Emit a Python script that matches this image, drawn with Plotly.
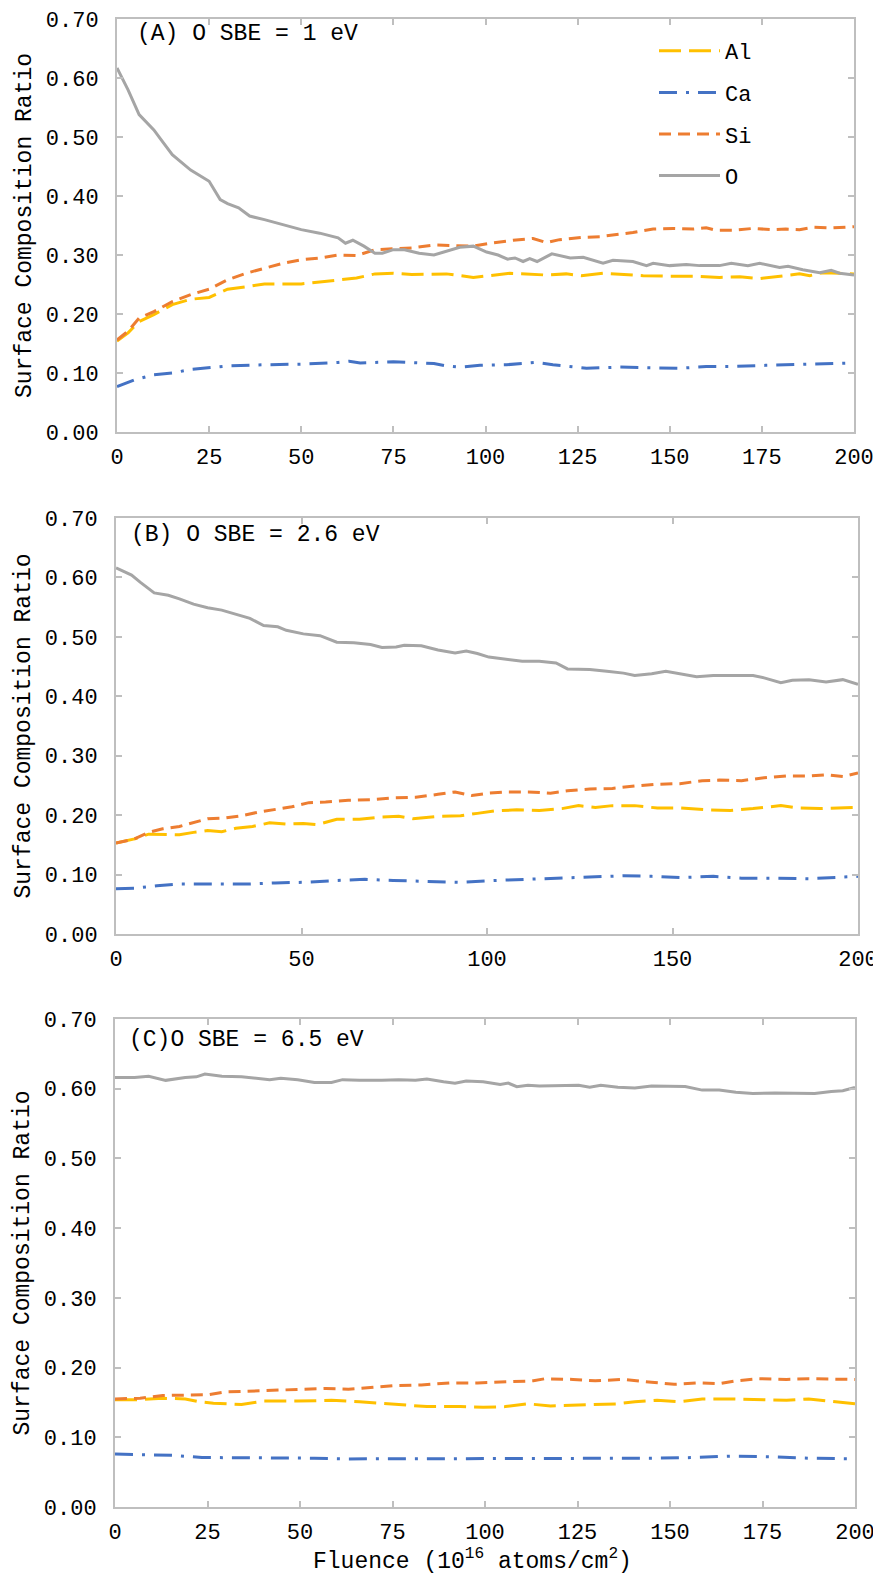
import plotly.graph_objects as go

# ---------------- Panel A (O SBE = 1 eV) ----------------
a_o_x = [0, 3, 6, 10, 12, 15, 20, 23, 25, 28, 30, 33, 36, 40, 45, 50, 55, 60, 62, 64, 67, 70, 72, 75, 78, 82, 86,
         89.4, 93, 96.7, 100.3, 103.4, 106, 108, 110.2, 112, 114, 118, 123, 126.5, 131.9, 134.6, 140, 143.7, 145.5,
         150, 154.5, 158.1, 163.5, 166.7, 171.2, 174.4, 179.8, 182.1, 186.1, 190.7, 193.8, 196.1, 200]
a_o_y = [0.617, 0.580, 0.538, 0.512, 0.495, 0.470, 0.444, 0.433, 0.425, 0.394, 0.387, 0.380, 0.366, 0.360, 0.351,
         0.343, 0.337, 0.329, 0.320, 0.325, 0.315, 0.303, 0.303, 0.309, 0.309, 0.303, 0.300,
         0.306, 0.313, 0.315, 0.305, 0.300, 0.293, 0.295, 0.289, 0.294, 0.289, 0.302, 0.295, 0.296, 0.286, 0.291,
         0.289, 0.282, 0.286, 0.282, 0.284, 0.282, 0.282, 0.286, 0.282, 0.286, 0.279, 0.281, 0.275, 0.270, 0.274,
         0.269, 0.266]
a_al_x = [0, 3, 6, 10, 15, 20, 25, 30, 35, 40, 50, 60, 65, 70, 75, 80, 86, 89.4, 96.7, 100.3, 106.6, 111, 116.5,
          121.9, 126, 131.9, 137.3, 142.8, 150, 157.2, 163.5, 169, 174.4, 179.8, 185.2, 188, 191.6, 196.1, 200]
a_al_y = [0.154, 0.168, 0.187, 0.199, 0.216, 0.225, 0.228, 0.242, 0.246, 0.251, 0.251, 0.258, 0.261, 0.268, 0.269,
          0.267, 0.268, 0.268, 0.262, 0.265, 0.269, 0.268, 0.266, 0.268, 0.265, 0.269, 0.267, 0.265, 0.264, 0.264,
          0.262, 0.263, 0.260, 0.264, 0.268, 0.265, 0.270, 0.269, 0.268]
a_si_x = [0, 3, 6, 10, 15, 20, 25, 30, 35, 40, 45, 50, 55, 60, 65, 70, 75, 80, 86, 96.7, 101.2, 107.5, 112.9,
          116.5, 120.1, 126.5, 131, 134.6, 140, 145.5, 150.9, 156.3, 159.9, 162.6, 167.1, 172.5, 177.9, 181.5,
          185.2, 188.8, 194.3, 200]
a_si_y = [0.156, 0.171, 0.193, 0.204, 0.221, 0.233, 0.242, 0.258, 0.269, 0.278, 0.286, 0.292, 0.295, 0.300, 0.299,
          0.309, 0.310, 0.312, 0.317, 0.315, 0.320, 0.325, 0.328, 0.321, 0.326, 0.330, 0.331, 0.334, 0.338, 0.344,
          0.345, 0.344, 0.346, 0.342, 0.342, 0.345, 0.343, 0.344, 0.343, 0.347, 0.346, 0.348]
a_ca_x = [0, 5, 10, 15, 20, 25, 30, 40, 50, 60, 63, 66, 75, 86, 89.4, 93, 98.5, 105.7, 113.8, 118.3, 127.4, 136.4,
          146.4, 152.7, 159.9, 167.1, 176, 186.9, 200]
a_ca_y = [0.077, 0.089, 0.097, 0.100, 0.106, 0.109, 0.112, 0.114, 0.115, 0.118, 0.120, 0.117, 0.119, 0.116, 0.112,
          0.110, 0.113, 0.114, 0.118, 0.114, 0.108, 0.110, 0.109, 0.108, 0.111, 0.111, 0.113, 0.115, 0.117]

# ---------------- Panel B (O SBE = 2.6 eV) ----------------
b_o_x = [0, 4.2, 6.5, 10.3, 14.1, 17.1, 20.9, 24.7, 28.5, 32.3, 36.1, 39.8, 43.6, 45.9, 50.5, 55, 59.5, 64.1, 68.6,
         71.7, 75.5, 77.7, 82.3, 86.8, 91.4, 94.4, 97.4, 100.5, 105, 109.5, 114.1, 118.6, 121.7, 127.7, 132.3,
         136.8, 139.8, 144.4, 148.2, 152, 156.5, 161, 167.1, 171.7, 174.7, 179.2, 182.3, 186.8, 191.4, 195.9, 200]
b_o_y = [0.616, 0.604, 0.592, 0.574, 0.570, 0.564, 0.555, 0.549, 0.545, 0.538, 0.531, 0.519, 0.517, 0.511, 0.505,
         0.502, 0.491, 0.490, 0.487, 0.482, 0.483, 0.486, 0.485, 0.478, 0.473, 0.476, 0.472, 0.466, 0.463, 0.459,
         0.459, 0.456, 0.446, 0.445, 0.442, 0.439, 0.435, 0.438, 0.442, 0.438, 0.433, 0.435, 0.435, 0.435, 0.431,
         0.423, 0.427, 0.428, 0.424, 0.428, 0.420]
b_al_x = [0, 5, 8.8, 12.6, 17.1, 20.9, 24.7, 28.5, 32.3, 36.8, 41.4, 45.9, 50.5, 54.2, 59.5, 65.6, 71.7, 76.2, 80,
          86.8, 92.9, 97.4, 102, 108, 114.1, 120.2, 124.7, 129.2, 133.8, 139.8, 145.9, 152, 159.5, 165.6, 171.7,
          179.2, 183.8, 189.8, 195.9, 200]
b_al_y = [0.153, 0.160, 0.168, 0.167, 0.167, 0.171, 0.174, 0.172, 0.178, 0.181, 0.187, 0.185, 0.186, 0.184, 0.193,
          0.193, 0.197, 0.198, 0.194, 0.198, 0.199, 0.203, 0.207, 0.209, 0.208, 0.211, 0.216, 0.213, 0.216, 0.216,
          0.212, 0.212, 0.209, 0.208, 0.211, 0.216, 0.212, 0.211, 0.212, 0.213]
b_si_x = [0, 5, 8.8, 12.6, 17.1, 20.9, 24.7, 29.2, 33.8, 38.3, 42.9, 47.4, 52, 56.5, 62.6, 68.6, 74.7, 80.8, 86.8,
          91.4, 95.9, 100.5, 105, 111.1, 117.1, 121.7, 127.7, 133.8, 139.8, 145.9, 152, 158, 162.6, 168.6, 174.7,
          180.8, 186.8, 191.4, 195.9, 200]
b_si_y = [0.153, 0.160, 0.171, 0.177, 0.181, 0.188, 0.194, 0.195, 0.199, 0.205, 0.209, 0.214, 0.221, 0.222, 0.225,
          0.226, 0.229, 0.230, 0.235, 0.239, 0.233, 0.237, 0.239, 0.239, 0.237, 0.241, 0.244, 0.245, 0.249, 0.252,
          0.253, 0.258, 0.259, 0.258, 0.263, 0.266, 0.266, 0.268, 0.265, 0.271]
b_ca_x = [0, 5, 11, 17.1, 26.2, 35.3, 42.9, 50.5, 59.5, 67.1, 74.7, 83.8, 92.9, 102, 111.1, 120.2, 129.2, 136.8,
          144.4, 152, 161, 168.6, 177.7, 186.8, 200]
b_ca_y = [0.076, 0.077, 0.081, 0.084, 0.084, 0.084, 0.086, 0.087, 0.090, 0.092, 0.090, 0.089, 0.087, 0.090, 0.092,
          0.094, 0.097, 0.098, 0.097, 0.095, 0.097, 0.094, 0.094, 0.093, 0.097]

# ---------------- Panel C (O SBE = 6.5 eV) ----------------
c_o_x = [0, 5.3, 9.1, 13.7, 19, 22, 24.3, 28.9, 34.2, 38.7, 41.8, 44.8, 49.4, 53.9, 58.5, 61.5, 66.1, 72.1, 76.7,
         81.2, 84.3, 88.8, 91.9, 94.9, 99.5, 104.1, 106.3, 108.6, 111.6, 114.7, 120.7, 125.3, 128.3, 131.3, 135.9,
         140.5, 145, 149.6, 154.1, 158.7, 163.3, 167.8, 172.4, 178.4, 184.5, 189.1, 193.6, 196.7, 200]
c_o_y = [0.616, 0.616, 0.618, 0.612, 0.616, 0.617, 0.621, 0.618, 0.617, 0.614, 0.613, 0.615, 0.613, 0.609, 0.609,
         0.613, 0.612, 0.612, 0.613, 0.612, 0.614, 0.610, 0.608, 0.611, 0.610, 0.606, 0.608, 0.603, 0.605, 0.604,
         0.605, 0.605, 0.602, 0.605, 0.602, 0.601, 0.604, 0.603, 0.603, 0.598, 0.598, 0.595, 0.593, 0.594, 0.594,
         0.593, 0.596, 0.597, 0.602]
c_al_x = [0, 6.8, 12.9, 19, 22.8, 26.6, 34.2, 40.2, 49.4, 58.5, 66.1, 75.2, 84.3, 93.4, 99.5, 105.5, 111.6, 117.7,
          126.8, 135.9, 140.5, 146.5, 152.6, 158.7, 166.3, 173.9, 181.5, 187.5, 193.6, 200]
c_al_y = [0.154, 0.154, 0.156, 0.155, 0.151, 0.149, 0.147, 0.152, 0.152, 0.153, 0.151, 0.148, 0.144, 0.144, 0.143,
          0.144, 0.148, 0.145, 0.147, 0.148, 0.151, 0.153, 0.151, 0.155, 0.155, 0.154, 0.153, 0.155, 0.152, 0.148]
c_si_x = [0, 6.8, 12.9, 20.5, 25.1, 29.6, 35.7, 43.3, 50.9, 57, 63.1, 69.1, 75.2, 82.8, 90.4, 98, 105.5, 113.1,
          116.2, 123.8, 129.8, 137.4, 145, 151.1, 157.2, 163.3, 167.8, 173.9, 181.5, 187.5, 200]
c_si_y = [0.155, 0.156, 0.160, 0.161, 0.161, 0.165, 0.166, 0.168, 0.169, 0.170, 0.169, 0.172, 0.174, 0.175, 0.178,
          0.178, 0.179, 0.181, 0.184, 0.183, 0.181, 0.183, 0.179, 0.176, 0.178, 0.177, 0.181, 0.184, 0.183, 0.184,
          0.183]
c_ca_x = [0, 8.4, 15.9, 23.5, 34.2, 43.3, 53.9, 63.1, 75.2, 87.3, 99.5, 111.6, 120.7, 132.9, 145, 157.2, 166.3,
          178.4, 187.5, 200]
c_ca_y = [0.076, 0.075, 0.074, 0.071, 0.071, 0.070, 0.070, 0.069, 0.069, 0.069, 0.070, 0.070, 0.069, 0.070, 0.070,
          0.071, 0.073, 0.072, 0.070, 0.069]

panel_labels = ["(A) O SBE = 1 eV", "(B) O SBE = 2.6 eV", "(C)O SBE = 6.5 eV"]
y_ticks = [0.0, 0.1, 0.2, 0.3, 0.4, 0.5, 0.6, 0.7]
x_dticks = [25, 50, 25]
series_names = ["Al", "Ca", "Si", "O"]
y_title = "Surface Composition Ratio"
x_title = "Fluence (10<sup>16</sup> atoms/cm<sup>2</sup>)"

# ---------------- styling ----------------
FONT = "Liberation Mono, Courier New, monospace"
PAGE_W, PAGE_H = 881, 1574
OFF = 8  # default body margin of the html page (top/left)
W, H = PAGE_W - OFF, PAGE_H - OFF
colors = {"Al": "#FFC000", "Ca": "#4472C4", "Si": "#ED7D31", "O": "#A5A5A5"}
dashes = {"Al": "22px,8px", "Ca": "18px,9px,3px,9px", "Si": "12px,7px", "O": "solid"}

# pixel boxes on the page (left, right, top, bottom)
boxes = [(117, 854, 19, 432), (116, 858, 518, 934), (115, 855, 1019, 1507)]
label_pos = [(135, 34), (129, 535), (127, 1040)]


def px(xp):
    return (xp - OFF) / W


def py(yp):
    return 1 - (yp - OFF) / H


panels = [
    {"Al": (a_al_x, a_al_y), "Ca": (a_ca_x, a_ca_y), "Si": (a_si_x, a_si_y), "O": (a_o_x, a_o_y)},
    {"Al": (b_al_x, b_al_y), "Ca": (b_ca_x, b_ca_y), "Si": (b_si_x, b_si_y), "O": (b_o_x, b_o_y)},
    {"Al": (c_al_x, c_al_y), "Ca": (c_ca_x, c_ca_y), "Si": (c_si_x, c_si_y), "O": (c_o_x, c_o_y)},
]

fig = go.Figure()
layout = dict(
    width=W, height=H, margin=dict(l=0, r=0, t=0, b=0, autoexpand=False),
    paper_bgcolor="white", plot_bgcolor="white",
    font=dict(family=FONT, size=22, color="#000000"),
    showlegend=True,
    legend=dict(x=px(654), y=py(30), xanchor="left", yanchor="top", itemwidth=61,
                bgcolor="rgba(0,0,0,0)", font=dict(family=FONT, size=22),
                traceorder="grouped", tracegroupgap=10),
)
annotations = []
for i, (pan, box) in enumerate(zip(panels, boxes)):
    l, r, t, b = box
    xa = "xaxis" if i == 0 else f"xaxis{i+1}"
    ya = "yaxis" if i == 0 else f"yaxis{i+1}"
    xref = "x" if i == 0 else f"x{i+1}"
    yref = "y" if i == 0 else f"y{i+1}"
    for name in series_names:
        xs, ys = pan[name]
        fig.add_trace(go.Scatter(
            x=xs, y=ys, mode="lines", name=name, xaxis=xref, yaxis=yref,
            line=dict(color=colors[name], width=3, dash=dashes[name]),
            showlegend=(i == 0), legendgroup=name,
        ))
    axis_common = dict(showline=True, linecolor="#BFBFBF", linewidth=2, mirror="ticks",
                       ticks="inside", ticklen=6, tickwidth=1.5, tickcolor="#BFBFBF",
                       showgrid=False, zeroline=False, automargin=False, ticklabeloverflow="allow",
                       tickfont=dict(family=FONT, size=22, color="#000000"))
    layout[xa] = dict(axis_common, domain=[px(l), px(r)], range=[0, 200], dtick=x_dticks[i], tick0=0,
                      anchor=yref, ticklabelstandoff=4)
    layout[ya] = dict(axis_common, domain=[py(b), py(t)], range=[0, 0.7], tickvals=y_ticks,
                      tickformat=".2f", anchor=xref, ticklabelstandoff=12,
                      title=dict(text=y_title, standoff=8,
                                 font=dict(family=FONT, size=23, color="#000000")))
    lx, ly = label_pos[i]
    annotations.append(dict(text=panel_labels[i], xref="paper", yref="paper",
                            x=px(lx), y=py(ly), xanchor="left", yanchor="middle",
                            showarrow=False, font=dict(family=FONT, size=23, color="#000000")))

annotations.append(dict(text=x_title, xref="paper", yref="paper", x=px(472), y=py(1560),
                        xanchor="center", yanchor="middle", showarrow=False,
                        font=dict(family=FONT, size=23, color="#000000")))
layout["annotations"] = annotations
fig.update_layout(**layout)
fig.write_html("out.html")
